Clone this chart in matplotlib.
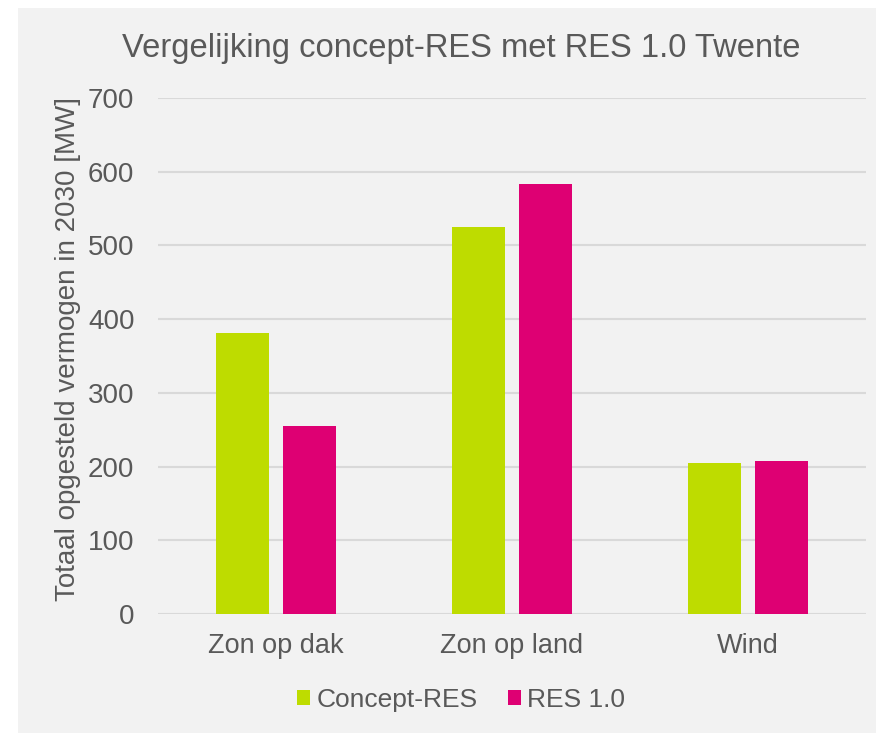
import numpy as np
import matplotlib
matplotlib.use("Agg")
import matplotlib.pyplot as plt
from matplotlib.patches import Rectangle

categories = ["Zon op dak", "Zon op land", "Wind"]
series_names = ["Concept-RES", "RES 1.0"]
concept_res = [381, 525, 205]
res_10 = [255, 583, 208]
yticks = [0, 100, 200, 300, 400, 500, 600, 700]

GREEN = "#BEDC00"
MAGENTA = "#DE0073"
TEXT = "#595959"
PANEL = "#F2F2F2"

plt.rcParams["font.family"] = ["Liberation Sans", "DejaVu Sans"]

fig = plt.figure(figsize=(8.76, 7.33), dpi=100)
fig.patch.set_facecolor("white")
# grey chart panel with a white margin at top and left
fig.patches.append(Rectangle((18 / 876, 0), 1 - 18 / 876, 1 - 8 / 733,
                             transform=fig.transFigure, facecolor=PANEL,
                             edgecolor="none", zorder=-10))

ax = fig.add_axes([158 / 876, 1 - 614 / 733, 708 / 876, (614 - 98) / 733])
ax.set_facecolor("none")

x = np.arange(len(categories))
w = 0.223
off = 0.143
ax.bar(x - off, concept_res, w, color=GREEN, label=series_names[0], zorder=3)
ax.bar(x + off, res_10, w, color=MAGENTA, label=series_names[1], zorder=3)

ax.set_xlim(-0.5, len(categories) - 0.5)
ax.set_ylim(0, 700)
ax.set_yticks(yticks)
ax.yaxis.grid(True, color="#D9D9D9", linewidth=1.5, zorder=0)
ax.set_axisbelow(True)
for s in ax.spines.values():
    s.set_visible(False)
ax.tick_params(axis="y", length=0, labelsize=20, colors=TEXT, pad=17)
ax.set_xticks(x)
ax.set_xticklabels(categories)
ax.tick_params(axis="x", length=0, labelsize=19.5, colors=TEXT, pad=14)

fig.text(68 / 876, 1 - 349 / 733, "Totaal opgesteld vermogen in 2030 [MW]",
         rotation=90, ha="center", va="center", fontsize=20, color=TEXT)
fig.text(461 / 876, 1 - 49 / 733, "Vergelijking concept-RES met RES 1.0 Twente",
         ha="center", va="center", fontsize=23.6, color=TEXT)

fig.legend(loc="center", bbox_to_anchor=(461 / 876, 1 - 700 / 733), ncol=2,
           frameon=False, fontsize=19, labelcolor=TEXT, handlelength=0.52,
           handleheight=0.52, handletextpad=0.23, columnspacing=1.14,
           borderpad=0)

fig.savefig("out.png", dpi=100)
